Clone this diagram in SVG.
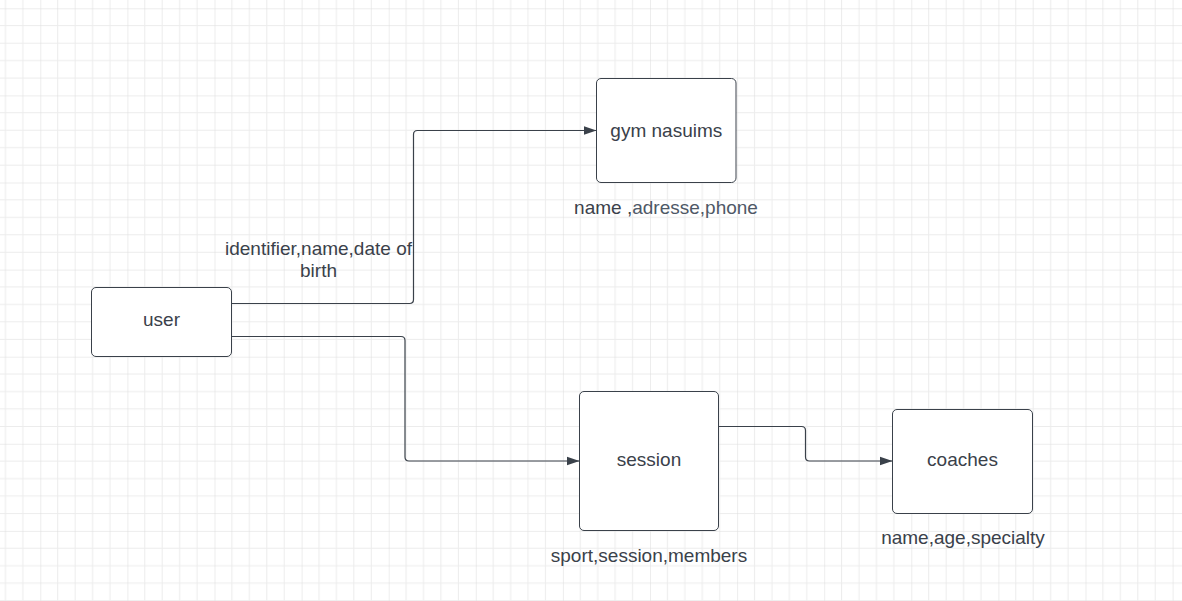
<svg xmlns="http://www.w3.org/2000/svg" width="1182" height="601" viewBox="0 0 1182 601">
  <style>
    .node { fill: #ffffff; stroke: #3a414a; stroke-width: 1; }
    .conn { fill: none; stroke: #3a414a; stroke-width: 1.2; }
    .lbl { font-family: "Liberation Sans", Arial, sans-serif; font-size: 19px; fill: #3a414a; text-anchor: middle; }
    .light { fill: #4e5866; }
  </style>
  <defs>
    <pattern id="grid" patternUnits="userSpaceOnUse" x="40.3" y="8.3" width="87.1" height="87.1">
      <g stroke="#ececec" stroke-width="1">
        <line x1="17.42" y1="0" x2="17.42" y2="87.1"/>
        <line x1="34.84" y1="0" x2="34.84" y2="87.1"/>
        <line x1="52.26" y1="0" x2="52.26" y2="87.1"/>
        <line x1="69.68" y1="0" x2="69.68" y2="87.1"/>
        <line x1="0" y1="17.42" x2="87.1" y2="17.42"/>
        <line x1="0" y1="34.84" x2="87.1" y2="34.84"/>
        <line x1="0" y1="52.26" x2="87.1" y2="52.26"/>
        <line x1="0" y1="69.68" x2="87.1" y2="69.68"/>
      </g>
      <g stroke="#dcdcdc" stroke-width="1">
        <line x1="0" y1="0" x2="0" y2="87.1"/>
        <line x1="0" y1="0" x2="87.1" y2="0"/>
      </g>
    </pattern>
    <marker id="arrow" markerWidth="13" markerHeight="10" refX="13" refY="5" orient="auto" markerUnits="userSpaceOnUse">
      <path d="M0,0.5 L13,5 L0,9.5 Z" fill="#3a414a"/>
    </marker>
  </defs>
  <rect x="0" y="0" width="1182" height="601" fill="#ffffff"/>
  <rect x="0" y="0" width="1182" height="601" fill="url(#grid)"/>

  <g id="connectors">
    <path class="conn" d="M231.5,303.5 H409.5 Q413.5,303.5 413.5,299.5 V134.5 Q413.5,130.5 417.5,130.5 H596.5" marker-end="url(#arrow)"/>
    <path class="conn" d="M231.5,336.5 H401 Q405,336.5 405,340.5 V457 Q405,461 409,461 H579.5" marker-end="url(#arrow)"/>
    <path class="conn" d="M718.5,426.5 H801.5 Q805.5,426.5 805.5,430.5 V457 Q805.5,461 809.5,461 H892.5" marker-end="url(#arrow)"/>
  </g>

  <g id="node-gym">
    <rect class="node" x="596.5" y="78.5" width="139.5" height="104" rx="4.5"/>
    <text class="lbl" x="666.3" y="136.5">gym nasuims</text>
  </g>
  <g id="label-gym">
    <text class="lbl" x="666" y="213.5">name ,<tspan class="light">adresse,phone</tspan></text>
  </g>

  <g id="node-user">
    <rect class="node" x="91.5" y="287.5" width="140" height="69" rx="4.5"/>
    <text class="lbl" x="161.5" y="325.7">user</text>
  </g>
  <g id="label-user">
    <text class="lbl" x="318.5" y="255">identifier,name,date of</text>
    <text class="lbl" x="318.5" y="276.7">birth</text>
  </g>

  <g id="node-session">
    <rect class="node" x="579.5" y="391.5" width="139" height="139" rx="4.5"/>
    <text class="lbl" x="649" y="465.7">session</text>
  </g>
  <g id="label-session">
    <text class="lbl" x="649" y="561.7">sport,session,members</text>
  </g>

  <g id="node-coaches">
    <rect class="node" x="892.5" y="409.5" width="140" height="104" rx="4.5"/>
    <text class="lbl" x="962.5" y="466">coaches</text>
  </g>
  <g id="label-coaches">
    <text class="lbl" x="963" y="543.5">name,age,specialty</text>
  </g>
</svg>
